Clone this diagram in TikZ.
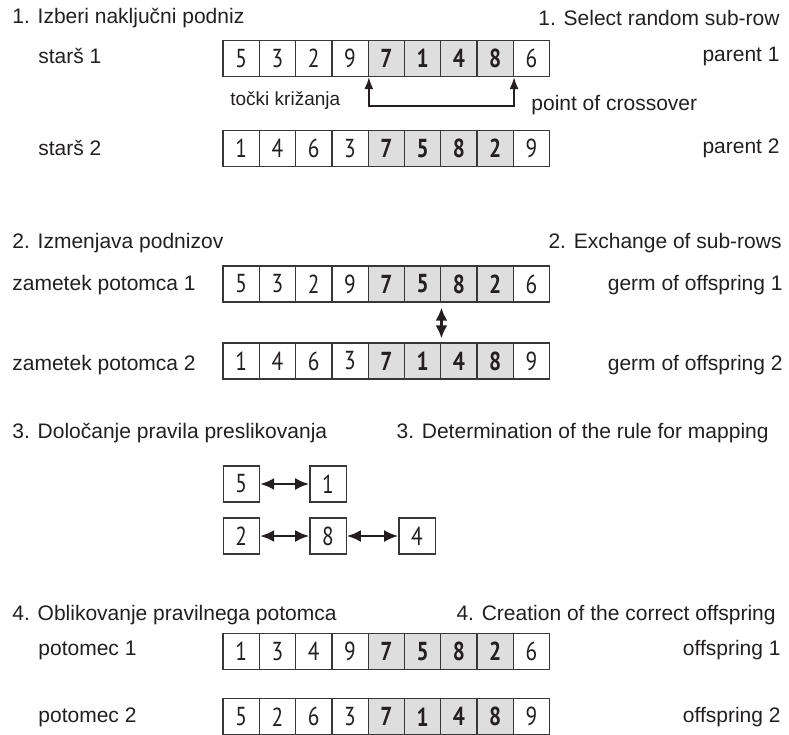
\documentclass[tikz,border=0pt]{standalone}
\usepackage{fontspec}
\setmainfont{Liberation Sans}
\newfontfamily\cellfont[FakeStretch=0.82]{PT Sans}
\usetikzlibrary{arrows.meta}
\definecolor{ink}{RGB}{35,31,32}
\definecolor{coregray}{RGB}{222,222,222}
\definecolor{celledge}{RGB}{55,55,55}
\tikzset{
	cell/.style={draw=celledge, line width=0.65pt, minimum width=18.15pt, minimum height=18pt,
		inner sep=0pt, text=ink},
	lbl/.style={text=ink, inner sep=0pt, font=\fontsize{10.5}{12}\selectfont},
	crossarrow/.style={{Latex[length=6pt,width=4.5pt]}-{Latex[length=6pt,width=4.5pt]},
		draw=ink, line width=0.8pt},
	xchg/.style={{Latex[length=6.5pt,width=6pt]}-{Latex[length=6.5pt,width=6pt]},
		draw=ink, line width=1.2pt},
	mapto/.style={{Latex[length=7pt,width=6pt]}-{Latex[length=7pt,width=6pt]},
		draw=ink, line width=1.3pt}
}
% one row of nine cells, cells 5..8 shaded
\newcommand{\cellrow}[3]{%
	\foreach \v [count=\i] in {#3} {
		\ifnum\i>4 \ifnum\i<9 \def\cfill{coregray}\def\cbold{\bfseries}\else\def\cfill{white}\def\cbold{}\fi
		\else\def\cfill{white}\def\cbold{}\fi
		\node[cell, fill=\cfill] (#1-\i) at ({223+36.3*\i-18.15}, #2)
			{\cellfont\fontsize{13}{13}\selectfont\cbold\v};
	}
}

\begin{document}
\begin{tikzpicture}[x=0.5pt,y=-0.5pt]
\useasboundingbox (0,0) rectangle (789,735);

% 1. select random sub-row
\node[lbl, anchor=west] (h1) at (12,18) {1. Izberi naključni podniz};
\node[lbl, anchor=east] (h1en) at (780,18) {1. Select random sub-row};
\node[lbl, anchor=west] (lbl-s1) at (38,56) {starš 1};
\node[lbl, anchor=east] (lbl-p1) at (780,56) {parent 1};
\cellrow{s1}{58.5}{5,3,2,9,7,1,4,8,6}
\node[lbl, anchor=west, font=\fontsize{9.5}{11}\selectfont] (lbl-tk) at (230,101) {točki križanja};
\node[lbl, anchor=west] (lbl-pc) at (531,105) {point of crossover};
\coordinate (kriz) at (440,106);
\draw[crossarrow] (s1-4.south east) |- (kriz) -| (s1-8.south east);
\node[lbl, anchor=west] (lbl-s2) at (38,148) {starš 2};
\node[lbl, anchor=east] (lbl-p2) at (780,148) {parent 2};
\cellrow{s2}{148.5}{1,4,6,3,7,5,8,2,9}

% 2. exchange of sub-rows
\node[lbl, anchor=west] (h2) at (12,243) {2. Izmenjava podnizov};
\node[lbl, anchor=east] (h2en) at (782,243) {2. Exchange of sub-rows};
\node[lbl, anchor=west] (lbl-z1) at (12,285) {zametek potomca 1};
\node[lbl, anchor=east] (lbl-g1) at (783,285) {germ of offspring 1};
\cellrow{z1}{284}{5,3,2,9,7,5,8,2,6}
\node[lbl, anchor=west] (lbl-z2) at (12,365) {zametek potomca 2};
\node[lbl, anchor=east] (lbl-g2) at (783,365) {germ of offspring 2};
\cellrow{z2}{361}{1,4,6,3,7,1,4,8,9}
\draw[xchg, shorten <=2.5pt, shorten >=2pt] (z1-6.south east) -- (z2-6.north east);

% 3. rule for mapping
\node[lbl, anchor=west] (h3) at (12,433) {3. Določanje pravila preslikovanja};
\node[lbl, anchor=east] (h3en) at (769,433) {3. Determination of the rule for mapping};
\node[cell, fill=white] (map5) at (241.3,484) {\cellfont\fontsize{13}{13}\selectfont 5};
\node[cell, fill=white] (map1) at (328,484) {\cellfont\fontsize{13}{13}\selectfont 1};
\node[cell, fill=white] (map2) at (241.3,536) {\cellfont\fontsize{13}{13}\selectfont 2};
\node[cell, fill=white] (map8) at (328,536) {\cellfont\fontsize{13}{13}\selectfont 8};
\node[cell, fill=white] (map4) at (417,536) {\cellfont\fontsize{13}{13}\selectfont 4};
\draw[mapto] (map5) -- (map1);
\draw[mapto] (map2) -- (map8);
\draw[mapto] (map8) -- (map4);

% 4. correct offspring
\node[lbl, anchor=west] (h4) at (12,615) {4. Oblikovanje pravilnega potomca};
\node[lbl, anchor=east] (h4en) at (776,615) {4. Creation of the correct offspring};
\node[lbl, anchor=west] (lbl-o1) at (38,650) {potomec 1};
\node[lbl, anchor=east] (lbl-f1) at (781,650) {offspring 1};
\cellrow{o1}{651.5}{1,3,4,9,7,5,8,2,6}
\node[lbl, anchor=west] (lbl-o2) at (38,717) {potomec 2};
\node[lbl, anchor=east] (lbl-f2) at (781,717) {offspring 2};
\cellrow{o2}{716.8}{5,2,6,3,7,1,4,8,9}

\end{tikzpicture}
\end{document}
